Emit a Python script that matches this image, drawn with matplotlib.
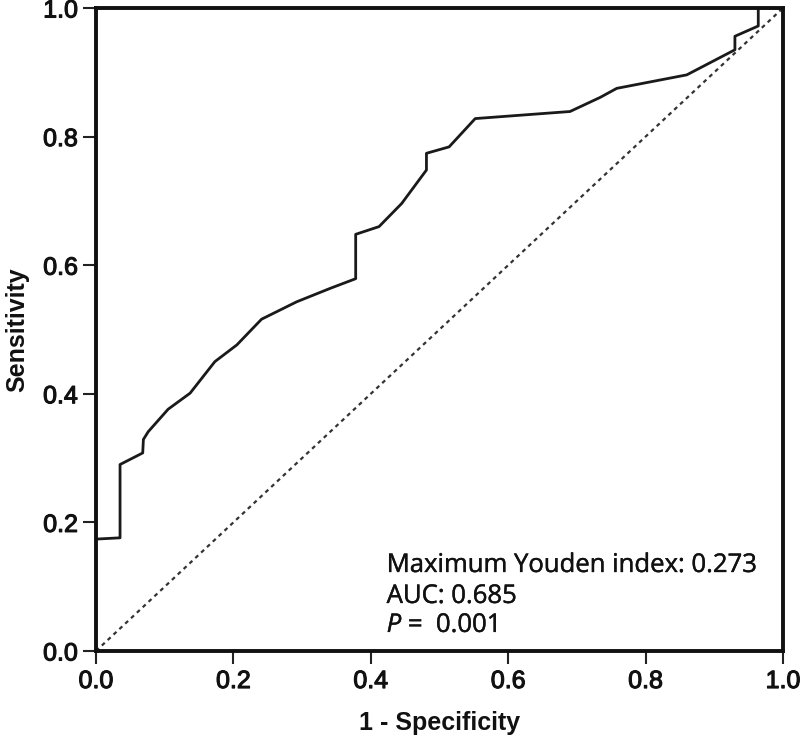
import matplotlib
matplotlib.use("Agg")
import matplotlib.pyplot as plt
import matplotlib.patheffects as pe

plt.rcParams['mathtext.fontset'] = 'custom'
plt.rcParams['mathtext.it'] = 'Open Sans:italic'
plt.rcParams['mathtext.rm'] = 'Open Sans'

fpr = [0.0, 0.035, 0.035, 0.068, 0.069, 0.076, 0.105, 0.137, 0.173, 0.205, 0.241,
       0.292, 0.341, 0.378, 0.378, 0.412, 0.445, 0.481, 0.481, 0.514, 0.552,
       0.690, 0.734, 0.758, 0.860, 0.930, 0.930, 0.964, 0.964, 1.0]
tpr = [0.174, 0.176, 0.290, 0.308, 0.329, 0.341, 0.376, 0.401, 0.450, 0.476, 0.516,
       0.543, 0.564, 0.579, 0.648, 0.660, 0.696, 0.748, 0.774, 0.784, 0.828,
       0.839, 0.861, 0.875, 0.896, 0.935, 0.956, 0.972, 1.0, 1.0]
ref = [0.0, 1.0]
ticks = [0.0, 0.2, 0.4, 0.6, 0.8, 1.0]
tick_labels = ["0.0", "0.2", "0.4", "0.6", "0.8", "1.0"]
annot = ["Maximum Youden index: 0.273", "AUC: 0.685", "0.001"]

thick = [pe.withStroke(linewidth=0.8, foreground="#111111")]
light = [pe.withStroke(linewidth=0.3, foreground="#111111")]

fig = plt.figure(figsize=(8, 7.39), dpi=100)
ax = fig.add_axes([0.12, 0.1191, 0.85875, 0.8701])
ax.plot(fpr, tpr, color="#1a1a1a", lw=2.0, solid_joinstyle="round")
ax.plot(ref, ref, color="#333333", lw=1.6, linestyle=(0, (1.8, 1.8)))
ax.set_xlim(0, 1)
ax.set_ylim(0, 1)
ax.set_xticks(ticks)
ax.set_yticks(ticks)
tf = dict(family="Liberation Sans", size=18, color="#111111", path_effects=thick)
ax.set_xticklabels(tick_labels, **tf)
ax.set_yticklabels(tick_labels, **tf)
ax.tick_params(direction="out", length=9.5, width=1.5, color="#222222", pad=3.5)
for s in ax.spines.values():
    s.set_linewidth(2.8)
    s.set_color("#111111")
ax.set_xlabel("1 - Specificity", family="Liberation Sans", weight="bold", size=18, labelpad=13, color="#111111")
ax.set_ylabel("Sensitivity", family="Liberation Sans", weight="bold", size=18, labelpad=10, color="#111111")

af = dict(family="Open Sans", size=18.5, color="#111111", va="baseline", ha="left", path_effects=light)
ax.text(0.4231, 0.1229, annot[0], transform=ax.transAxes, **af)
ax.text(0.4231, 0.0747, annot[1], transform=ax.transAxes, **af)
ax.text(0.4231, 0.0295, r"$P$ =  " + annot[2], transform=ax.transAxes, **af)

fig.savefig("out.png", dpi=100)
